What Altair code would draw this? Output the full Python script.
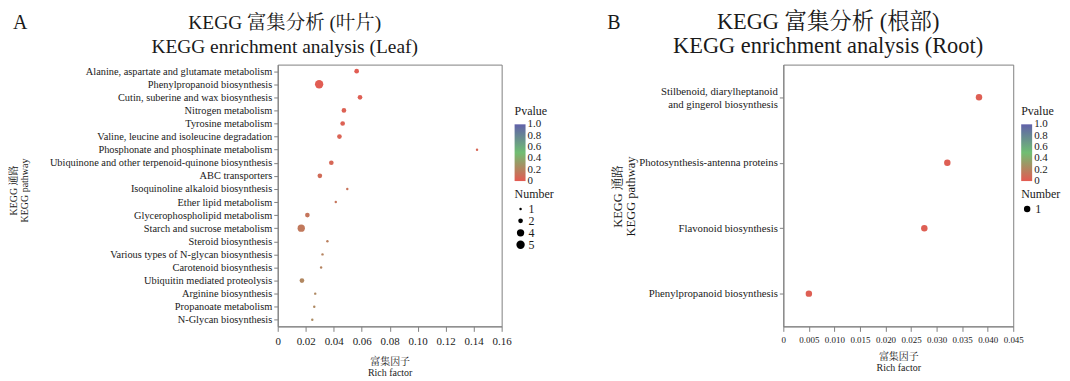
import altair as alt
import pandas as pd

# ---------------- data ----------------
leaf_pathways = [
    "Alanine, aspartate and glutamate metabolism",
    "Phenylpropanoid biosynthesis",
    "Cutin, suberine and wax biosynthesis",
    "Nitrogen metabolism",
    "Tyrosine metabolism",
    "Valine, leucine and isoleucine degradation",
    "Phosphonate and phosphinate metabolism",
    "Ubiquinone and other terpenoid-quinone biosynthesis",
    "ABC transporters",
    "Isoquinoline alkaloid biosynthesis",
    "Ether lipid metabolism",
    "Glycerophospholipid metabolism",
    "Starch and sucrose metabolism",
    "Steroid biosynthesis",
    "Various types of N-glycan biosynthesis",
    "Carotenoid biosynthesis",
    "Ubiquitin mediated proteolysis",
    "Arginine biosynthesis",
    "Propanoate metabolism",
    "N-Glycan biosynthesis",
]
leaf_rich = [0.0564, 0.0296, 0.0588, 0.0473, 0.0464, 0.0441, 0.1424, 0.0383, 0.0301, 0.0497,
             0.0415, 0.0212, 0.0168, 0.0355, 0.0320, 0.0310, 0.0173, 0.0268, 0.0261, 0.0247]
leaf_number = [2, 5, 2, 2, 2, 2, 1, 2, 2, 1, 1, 2, 4, 1, 1, 1, 2, 1, 1, 1]
leaf_pvalue = [0.01, 0.01, 0.02, 0.03, 0.03, 0.04, 0.05, 0.06, 0.08, 0.12,
               0.13, 0.13, 0.15, 0.18, 0.20, 0.20, 0.22, 0.23, 0.23, 0.24]
leaf_x_ticks = [0, 0.02, 0.04, 0.06, 0.08, 0.10, 0.12, 0.14, 0.16]
leaf_size_legend = [1, 2, 4, 5]

root_pathways = [
    "Stilbenoid, diarylheptanoid and gingerol biosynthesis",
    "Photosynthesis-antenna proteins",
    "Flavonoid biosynthesis",
    "Phenylpropanoid biosynthesis",
]
root_rich = [0.0383, 0.0321, 0.0276, 0.0050]
root_number = [1, 1, 1, 1]
root_pvalue = [0.02, 0.02, 0.02, 0.02]
root_x_ticks = [0, 0.005, 0.010, 0.015, 0.020, 0.025, 0.030, 0.035, 0.040, 0.045]
root_size_legend = [1]

pvalue_ticks = [0, 0.2, 0.4, 0.6, 0.8, 1.0]

leaf_title = ["KEGG 富集分析 (叶片)", "KEGG enrichment analysis (Leaf)"]
root_title = ["KEGG 富集分析 (根部)", "KEGG enrichment analysis (Root)"]

FONT = "Liberation Serif, Noto Serif CJK SC, Noto Sans CJK SC, serif"
FRAME = "#808080"
TEXT = "#1a1a1a"

leaf_df = pd.DataFrame({"pathway": leaf_pathways, "rich": leaf_rich,
                        "Number": leaf_number, "Pvalue": leaf_pvalue})
root_df = pd.DataFrame({"pathway": root_pathways, "rich": root_rich,
                        "Number": root_number, "Pvalue": root_pvalue})

# domain padded by a hair so the end labels of the gradient sit centred
color_scale = alt.Scale(domain=[-0.003, 0.5, 1.003],
                        range=["#E0443A", "#5DB55F", "#4B4B9E"],
                        interpolate="rgb")


def text_layer(txt, x, y, size, align):
    return alt.Chart(pd.DataFrame({"t": [txt]})).mark_text(
        fontSize=size, align=align, baseline="alphabetic", font=FONT, color=TEXT
    ).encode(x=alt.value(x), y=alt.value(y), text="t:N")


def panel(df, order, xmax, xticks, xfmt, width, letter, letter_x, title, title_x,
          title_size, size_scale, size_values, y_label_size, y_title_size,
          y_title_x, y_title_y, x_label_size, x_title_pad, legend_x,
          label_expr_y, label_offset_y):
    pts = alt.Chart(df).mark_circle(opacity=0.88).encode(
        x=alt.X("rich:Q",
                scale=alt.Scale(domain=[0, xmax], nice=False, zero=True),
                axis=alt.Axis(values=xticks, grid=False, labelOverlap=False,
                              labelFlush=False, labelColor=TEXT,
                              labelExpr="datum.value == 0 ? '0' : format(datum.value, '" + xfmt + "')",
                              title=["富集因子", "Rich factor"],
                              titleFontSize=10, titleFontWeight="normal",
                              titleLineHeight=11,
                              labelFontSize=x_label_size, tickSize=5,
                              labelPadding=4, titlePadding=x_title_pad)),
        y=alt.Y("pathway:N", sort=order,
                axis=alt.Axis(title=["KEGG 通路", "KEGG pathway"],
                              titleFontSize=y_title_size, titleFontWeight="normal",
                              titleLineHeight=y_title_size + 1,
                              titleX=y_title_x, titleY=y_title_y, titleAngle=270,
                              titleAlign="center", titleBaseline="top",
                              labelFontSize=y_label_size, tickSize=4,
                              labelPadding=2, labelLimit=400,
                              labelExpr=label_expr_y, labelOffset=label_offset_y)),
        color=alt.Color("Pvalue:Q", scale=color_scale,
                        legend=alt.Legend(title="Pvalue", orient="none",
                                          legendX=legend_x, legendY=42,
                                          values=pvalue_ticks,
                                          labelExpr="datum.value == 0 ? '0' : format(datum.value, '.1f')",
                                          gradientLength=57, gradientThickness=11,
                                          labelOverlap=False, labelFontSize=11,
                                          titleFontSize=12, titleFontWeight="normal",
                                          titlePadding=6, labelOffset=2,
                                          gradientStrokeWidth=0, direction="vertical")),
        size=alt.Size("Number:Q", scale=size_scale,
                      legend=alt.Legend(title="Number", orient="none",
                                        legendX=legend_x, legendY=125,
                                        values=size_values, format="d",
                                        symbolFillColor="black",
                                        symbolStrokeWidth=0, symbolOpacity=1,
                                        labelFontSize=12, titleFontSize=12,
                                        titleFontWeight="normal", titlePadding=2,
                                        rowPadding=0, labelOffset=2)),
    )
    return alt.layer(
        pts,
        text_layer(letter, letter_x, -36, 20, "left"),
        text_layer(title[0], title_x, -36, title_size, "center"),
        text_layer(title[1], title_x, -12, title_size, "center"),
    ).properties(width=width, height=263)


stil = "Stilbenoid, diarylheptanoid and gingerol biosynthesis"
left = panel(leaf_df, leaf_pathways, 0.16, leaf_x_ticks, ".2f", 225, "A", -266,
             leaf_title, 7, 19.5,
             alt.Scale(domain=[1, 5], range=[6, 70]), leaf_size_legend,
             10.4, 10, -270, 126, 11, 10, 238, "datum.label", 0)
right = panel(root_df, root_pathways, 0.045, root_x_ticks, ".3f", 231, "B", -177,
              root_title, 45, 22.5,
              alt.Scale(domain=[0, 1], range=[0, 42]), root_size_legend,
              10.8, 12.5, -173, 132, 9, 7, 239,
              "datum.label == '" + stil + "' ? ['Stilbenoid, diarylheptanoid', 'and gingerol biosynthesis'] : datum.label",
              {"condition": {"test": "datum.value == '" + stil + "'", "value": -5.5},
               "value": 0})

chart = alt.hconcat(left, right, spacing=51).resolve_scale(
    color="independent", size="independent"
).resolve_legend(color="independent", size="independent").properties(
    padding={"left": 0, "top": 1, "right": 0, "bottom": 0}
).configure(font=FONT).configure_view(
    stroke=FRAME, strokeWidth=1
).configure_axis(
    domainColor=FRAME, tickColor=FRAME, labelColor=TEXT, titleColor=TEXT,
    labelFont=FONT, titleFont=FONT
).configure_legend(
    labelColor=TEXT, titleColor=TEXT, labelFont=FONT, titleFont=FONT
)

chart.save("out.html", embed_options={"renderer": "svg", "actions": False})
